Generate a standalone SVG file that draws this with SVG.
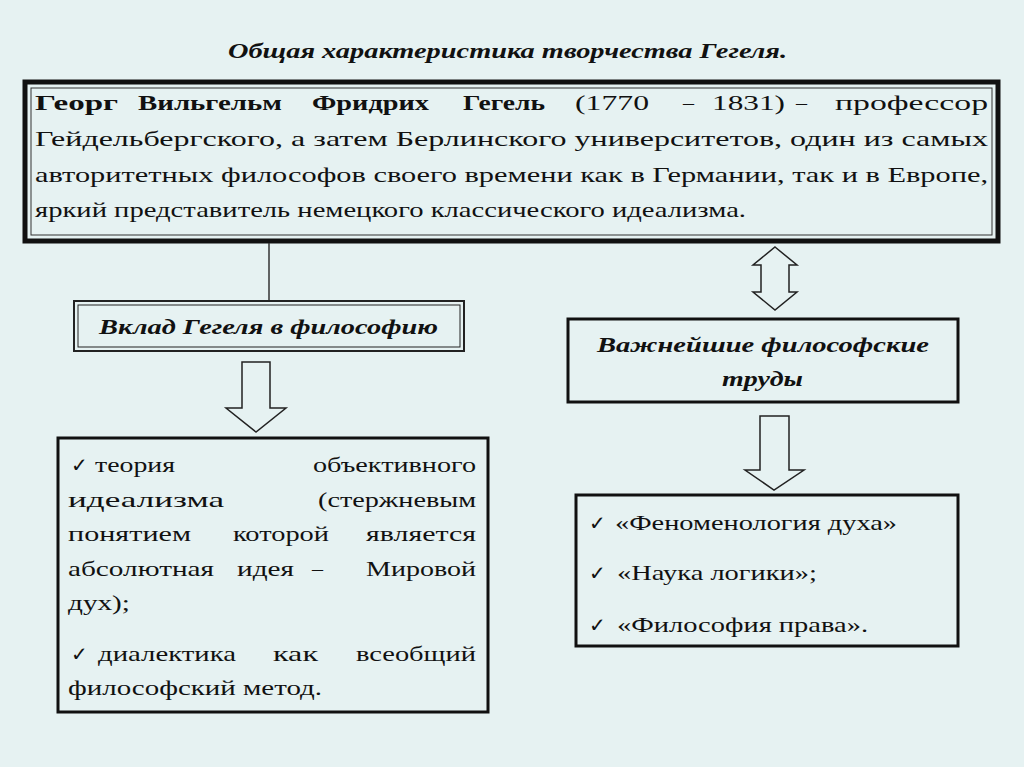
<svg xmlns="http://www.w3.org/2000/svg" width="1024" height="767" viewBox="0 0 1024 767">
<style>
text{font-family:"Liberation Serif","DejaVu Serif Condensed","DejaVu Serif",serif;font-size:22px;fill:#111}
.b{font-weight:bold}
.bi{font-weight:bold;font-style:italic}
.ck{font-family:"DejaVu Sans",sans-serif;font-size:20px}
.ar{fill:#e6f2f2;stroke:#222;stroke-width:1.5}
</style>
<rect width="1024" height="767" fill="#e6f2f2"/>
<text class="bi" x="228" y="58" textLength="559" lengthAdjust="spacingAndGlyphs" style="font-size:21px">Общая характеристика творчества Гегеля.</text>
<g id="main">
<rect x="25" y="82" width="973" height="159" fill="none" stroke="#111" stroke-width="5"/>
<rect x="31" y="88" width="961" height="147" fill="none" stroke="#333" stroke-width="1"/>
<text class="b" x="35" y="110" textLength="83" lengthAdjust="spacingAndGlyphs">Георг</text>
<text class="b" x="138" y="110" textLength="144" lengthAdjust="spacingAndGlyphs">Вильгельм</text>
<text class="b" x="312" y="110" textLength="117" lengthAdjust="spacingAndGlyphs">Фридрих</text>
<text class="b" x="463" y="110" textLength="82" lengthAdjust="spacingAndGlyphs">Гегель</text>
<text x="575" y="110" textLength="74" lengthAdjust="spacingAndGlyphs">(1770</text>
<text x="683" y="110">–</text>
<text x="712" y="110" textLength="73" lengthAdjust="spacingAndGlyphs">1831)</text>
<text x="796" y="110">–</text>
<text x="835" y="110" textLength="153" lengthAdjust="spacingAndGlyphs">профессор</text>
<text x="35" y="146" textLength="953" lengthAdjust="spacingAndGlyphs">Гейдельбергского,  а  затем  Берлинского  университетов,  один  из  самых</text>
<text x="35" y="182" textLength="953" lengthAdjust="spacingAndGlyphs">авторитетных философов своего времени как в Германии, так и в Европе,</text>
<text x="35" y="217" textLength="711" lengthAdjust="spacingAndGlyphs">яркий представитель немецкого классического идеализма.</text>
</g>
<g id="connectors">
<line x1="269" y1="243" x2="269" y2="300" stroke="#333" stroke-width="1.5"/>
<path class="ar" d="M242,362 H270 V408 H286 L256,432 L226,408 H242 Z"/>
<path class="ar" d="M775,247 L797,265 H789 V292 H797 L775,310 L753,292 H761 V265 H753 Z"/>
<path class="ar" d="M760,416 H789 V470 H804 L774,490 L745,470 H760 Z"/>
</g>
<g id="contrib">
<rect x="74" y="301" width="390" height="50" fill="none" stroke="#222" stroke-width="2"/>
<rect x="78" y="305" width="382" height="42" fill="none" stroke="#222" stroke-width="1"/>
<text class="bi" x="99" y="334" textLength="339" lengthAdjust="spacingAndGlyphs">Вклад Гегеля в философию</text>
</g>
<g id="contrib-list">
<rect x="58" y="438" width="430" height="274" fill="none" stroke="#111" stroke-width="3"/>
<text class="ck" x="71" y="472">✓</text>
<text x="95" y="472" textLength="80" lengthAdjust="spacingAndGlyphs">теория</text>
<text x="313" y="472" textLength="163" lengthAdjust="spacingAndGlyphs">объективного</text>
<text x="68" y="507" textLength="156" lengthAdjust="spacingAndGlyphs">идеализма</text>
<text x="318" y="507" textLength="158" lengthAdjust="spacingAndGlyphs">(стержневым</text>
<text x="68" y="541" textLength="123" lengthAdjust="spacingAndGlyphs">понятием</text>
<text x="233" y="541" textLength="96" lengthAdjust="spacingAndGlyphs">которой</text>
<text x="366" y="541" textLength="110" lengthAdjust="spacingAndGlyphs">является</text>
<text x="68" y="576" textLength="146" lengthAdjust="spacingAndGlyphs">абсолютная</text>
<text x="237" y="576" textLength="57" lengthAdjust="spacingAndGlyphs">идея</text>
<text x="312" y="576">–</text>
<text x="366" y="576" textLength="110" lengthAdjust="spacingAndGlyphs">Мировой</text>
<text x="68" y="610" textLength="62" lengthAdjust="spacingAndGlyphs">дух);</text>
<text class="ck" x="71" y="661">✓</text>
<text x="98" y="661" textLength="138" lengthAdjust="spacingAndGlyphs">диалектика</text>
<text x="273" y="661" textLength="45" lengthAdjust="spacingAndGlyphs">как</text>
<text x="356" y="661" textLength="120" lengthAdjust="spacingAndGlyphs">всеобщий</text>
<text x="68" y="695" textLength="254" lengthAdjust="spacingAndGlyphs">философский метод.</text>
</g>
<g id="works">
<rect x="568" y="319" width="390" height="83" fill="none" stroke="#111" stroke-width="3"/>
<text class="bi" x="597" y="352" textLength="332" lengthAdjust="spacingAndGlyphs">Важнейшие философские</text>
<text class="bi" x="722" y="386" textLength="81" lengthAdjust="spacingAndGlyphs">труды</text>
</g>
<g id="works-list">
<rect x="576" y="495" width="382" height="151" fill="none" stroke="#111" stroke-width="3"/>
<text class="ck" x="589" y="530">✓</text>
<text x="615" y="530" textLength="282" lengthAdjust="spacingAndGlyphs">«Феноменология духа»</text>
<text class="ck" x="589" y="580">✓</text>
<text x="617" y="580" textLength="200" lengthAdjust="spacingAndGlyphs">«Наука логики»;</text>
<text class="ck" x="589" y="632">✓</text>
<text x="617" y="632" textLength="251" lengthAdjust="spacingAndGlyphs">«Философия права».</text>
</g>
</svg>
